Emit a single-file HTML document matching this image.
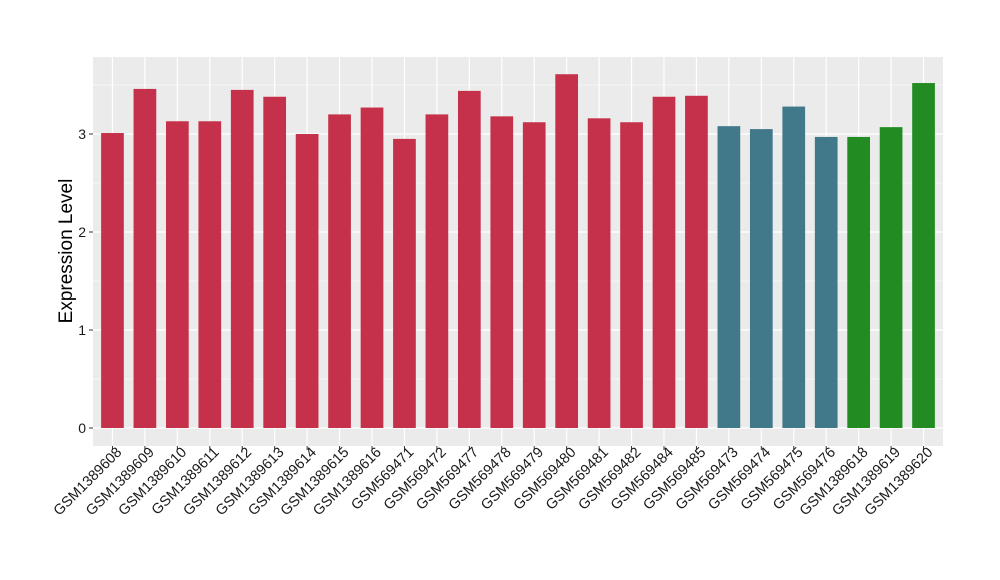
<!DOCTYPE html>
<html><head><meta charset="utf-8"><style>
body{margin:0;background:#fff;}
svg{display:block;font-family:"Liberation Sans",Arial,sans-serif;}
</style></head><body>
<svg id="chart" width="1000" height="580">
<rect x="93" y="57" width="850" height="389" fill="#ebebeb"/>
<g id="grid"></g><g id="bars"></g><g id="axes"></g>
<text x="0" y="0" transform="translate(72,251) rotate(-90)" text-anchor="middle" font-size="19" fill="#000">Expression Level</text>
</svg>
<script>
const categories=["GSM1389608","GSM1389609","GSM1389610","GSM1389611","GSM1389612","GSM1389613","GSM1389614","GSM1389615","GSM1389616","GSM569471","GSM569472","GSM569477","GSM569478","GSM569479","GSM569480","GSM569481","GSM569482","GSM569484","GSM569485","GSM569473","GSM569474","GSM569475","GSM569476","GSM1389618","GSM1389619","GSM1389620"];
const values=[3.01,3.46,3.13,3.13,3.45,3.38,3.0,3.2,3.27,2.95,3.2,3.44,3.18,3.12,3.61,3.16,3.12,3.38,3.39,3.08,3.05,3.28,2.97,2.97,3.07,3.52];
const groups=["a","a","a","a","a","a","a","a","a","a","a","a","a","a","a","a","a","a","a","b","b","b","b","c","c","c"];
const yTicks=[0,1,2,3];
const colors={a:"#c5314a",b:"#41788a",c:"#228b22"};
const NS="http://www.w3.org/2000/svg";
const x0=93,x1=943,yTop=57,yBot=446;
const y=v=>428-v*98;
const step=(x1-x0)/(categories.length+0.2);
const x=i=>x0+step*(0.6+i);
const bw=step*0.7;
function mk(t,a,p){const e=document.createElementNS(NS,t);for(const k in a)e.setAttribute(k,a[k]);p.appendChild(e);return e;}
const grid=document.getElementById('grid'),bars=document.getElementById('bars'),axes=document.getElementById('axes');
for(let v=-0.5;v<=3.75;v+=0.5){const yy=y(v);if(yy<yTop||yy>yBot)continue;const major=Number.isInteger(v);
const l=mk('line',{x1:x0,x2:x1,y1:yy,y2:yy,stroke:'#fff','stroke-width':major?1.2:0.5},grid);

}
categories.forEach((c,i)=>{const l=mk('line',{x1:x(i),x2:x(i),y1:yTop,y2:yBot,stroke:'#fff','stroke-width':1.2},grid);

});
categories.forEach((c,i)=>{const r=mk('rect',{x:x(i)-bw/2,y:y(values[i]),width:bw,height:y(0)-y(values[i]),fill:colors[groups[i]]},bars);


const t=mk('line',{x1:x(i),x2:x(i),y1:yBot,y2:yBot+4,stroke:'#333'},axes);


const tx=mk('text',{transform:`translate(${x(i)+10},${yBot+7}) rotate(-45)`,'text-anchor':'end','font-size':14.5,fill:'#1a1a1a'},axes);
tx.textContent=c;

});
yTicks.forEach(v=>{const t=mk('line',{x1:x0-4,x2:x0,y1:y(v),y2:y(v),stroke:'#333'},axes);


const tx=mk('text',{x:x0-7,y:y(v)+5,'text-anchor':'end','font-size':14,fill:'#1a1a1a'},axes);
tx.textContent=v;

});
</script>
</body></html>
